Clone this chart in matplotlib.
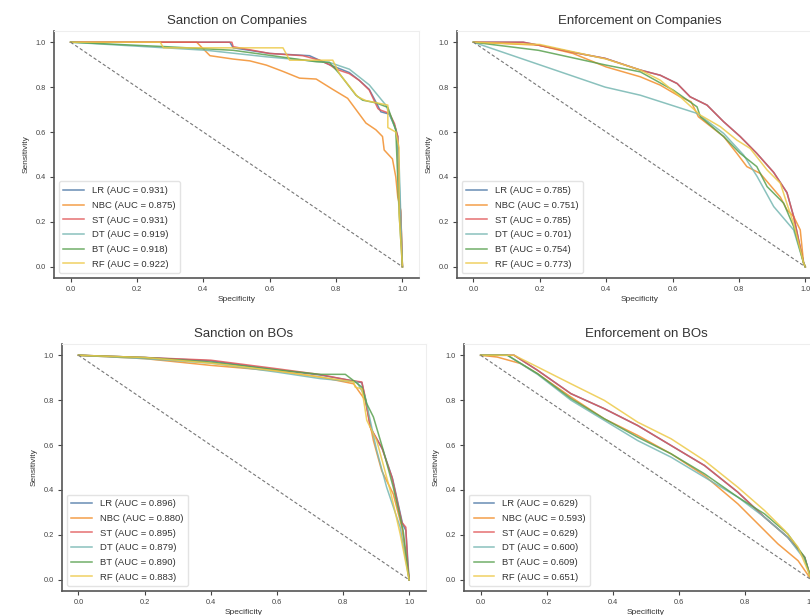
import matplotlib
matplotlib.use("Agg")
import matplotlib.pyplot as plt

plt.rcParams['font.family'] = ['Liberation Sans', 'DejaVu Sans']

models = ["LR", "NBC", "ST", "DT", "BT", "RF"]
colors = ["#4E79A7", "#F28E2B", "#E15759", "#76B7B2", "#59A14F", "#EDC948"]
titles = ["Sanction on Companies", "Enforcement on Companies",
          "Sanction on BOs", "Enforcement on BOs"]
ticks = [0.0, 0.2, 0.4, 0.6, 0.8, 1.0]

# AUC values per panel, order of models
auc_sc = [0.931, 0.875, 0.931, 0.919, 0.918, 0.922]
auc_ec = [0.785, 0.751, 0.785, 0.701, 0.754, 0.773]
auc_sb = [0.896, 0.880, 0.895, 0.879, 0.890, 0.883]
auc_eb = [0.629, 0.593, 0.629, 0.600, 0.609, 0.651]

# ---- Sanction on Companies (specificity, sensitivity)
sc_lr_x = [0, 0.48, 0.49, 0.60, 0.72, 0.78, 0.84, 0.87, 0.90, 0.925, 0.935, 0.96, 0.976, 0.986, 0.992, 1.0]
sc_lr_y = [1.0, 1.0, 0.975, 0.95, 0.94, 0.90, 0.865, 0.83, 0.79, 0.72, 0.69, 0.68, 0.63, 0.58, 0.30, 0.0]
sc_nbc_x = [0, 0.38, 0.40, 0.42, 0.49, 0.54, 0.59, 0.64, 0.69, 0.74, 0.79, 0.835, 0.86, 0.89, 0.92, 0.94, 0.945, 0.97, 0.98, 0.986, 0.995, 1.0]
sc_nbc_y = [1.0, 1.0, 0.97, 0.94, 0.925, 0.917, 0.898, 0.87, 0.84, 0.836, 0.79, 0.75, 0.70, 0.64, 0.61, 0.58, 0.52, 0.48, 0.40, 0.31, 0.25, 0.0]
sc_st_x = [0, 0.486, 0.49, 0.60, 0.70, 0.75, 0.78, 0.80, 0.84, 0.87, 0.90, 0.926, 0.93, 0.961, 0.976, 0.986, 0.99, 0.995, 1.0]
sc_st_y = [1.0, 1.0, 0.98, 0.95, 0.94, 0.92, 0.90, 0.88, 0.86, 0.83, 0.787, 0.705, 0.70, 0.683, 0.638, 0.58, 0.31, 0.24, 0.0]
sc_dt_x = [0, 0.41, 0.59, 0.78, 0.84, 0.90, 0.95, 0.98, 0.99, 1.0]
sc_dt_y = [1.0, 0.964, 0.935, 0.91, 0.88, 0.81, 0.72, 0.61, 0.46, 0.0]
sc_bt_x = [0, 0.29, 0.49, 0.74, 0.78, 0.81, 0.86, 0.88, 0.92, 0.956, 0.98, 0.99, 1.0]
sc_bt_y = [1.0, 0.98, 0.964, 0.913, 0.91, 0.86, 0.764, 0.742, 0.73, 0.71, 0.61, 0.24, 0.0]
sc_rf_x = [0, 0.27, 0.28, 0.64, 0.66, 0.79, 0.81, 0.865, 0.89, 0.956, 0.956, 0.98, 0.99, 0.99, 1.0]
sc_rf_y = [1.0, 1.0, 0.975, 0.975, 0.92, 0.92, 0.86, 0.757, 0.74, 0.72, 0.62, 0.60, 0.53, 0.24, 0.0]

# ---- Enforcement on Companies
ec_lr_x = [0, 0.15, 0.196, 0.30, 0.397, 0.503, 0.563, 0.614, 0.653, 0.704, 0.754, 0.804, 0.854, 0.905, 0.945, 0.965, 0.98, 0.995, 1.0]
ec_lr_y = [1.0, 1.0, 0.987, 0.955, 0.928, 0.876, 0.853, 0.816, 0.757, 0.72, 0.646, 0.58, 0.505, 0.42, 0.33, 0.224, 0.12, 0.017, 0.0]
ec_nbc_x = [0, 0.196, 0.30, 0.40, 0.503, 0.563, 0.623, 0.656, 0.678, 0.754, 0.794, 0.824, 0.864, 0.925, 0.945, 0.965, 0.985, 0.995, 1.0]
ec_nbc_y = [1.0, 0.987, 0.95, 0.89, 0.846, 0.809, 0.757, 0.735, 0.668, 0.58, 0.505, 0.446, 0.416, 0.31, 0.253, 0.224, 0.164, 0.017, 0.0]
ec_st_x = [0, 0.15, 0.196, 0.30, 0.397, 0.503, 0.563, 0.614, 0.653, 0.704, 0.754, 0.804, 0.854, 0.905, 0.945, 0.965, 0.98, 0.995, 1.0]
ec_st_y = [1.0, 1.0, 0.987, 0.955, 0.928, 0.876, 0.853, 0.816, 0.757, 0.72, 0.646, 0.58, 0.505, 0.42, 0.33, 0.224, 0.12, 0.017, 0.0]
ec_dt_x = [0, 0.397, 0.503, 0.674, 0.754, 0.814, 0.855, 0.905, 0.965, 0.995, 1.0]
ec_dt_y = [1.0, 0.80, 0.764, 0.683, 0.594, 0.498, 0.402, 0.268, 0.164, 0.017, 0.0]
ec_bt_x = [0, 0.196, 0.40, 0.503, 0.603, 0.674, 0.684, 0.754, 0.804, 0.854, 0.885, 0.935, 0.965, 0.995, 1.0]
ec_bt_y = [1.0, 0.964, 0.898, 0.868, 0.786, 0.712, 0.668, 0.58, 0.505, 0.446, 0.357, 0.283, 0.179, 0.017, 0.0]
ec_rf_x = [0, 0.20, 0.40, 0.503, 0.563, 0.623, 0.683, 0.744, 0.794, 0.834, 0.885, 0.925, 0.945, 0.965, 0.995, 1.0]
ec_rf_y = [1.0, 0.99, 0.925, 0.876, 0.831, 0.757, 0.676, 0.624, 0.564, 0.527, 0.431, 0.372, 0.28, 0.194, 0.017, 0.0]

# ---- Sanction on BOs
sb_lr_x = [0, 0.2, 0.4, 0.6, 0.731, 0.822, 0.857, 0.867, 0.885, 0.92, 0.95, 0.98, 0.99, 1.0]
sb_lr_y = [1.0, 0.99, 0.975, 0.935, 0.912, 0.888, 0.878, 0.81, 0.67, 0.58, 0.45, 0.25, 0.22, 0.0]
sb_nbc_x = [0, 0.2, 0.4, 0.6, 0.731, 0.832, 0.867, 0.892, 0.917, 0.952, 0.978, 1.0]
sb_nbc_y = [1.0, 0.985, 0.955, 0.93, 0.903, 0.873, 0.80, 0.62, 0.486, 0.382, 0.234, 0.0]
sb_st_x = [0, 0.2, 0.4, 0.6, 0.731, 0.822, 0.857, 0.867, 0.882, 0.917, 0.948, 0.978, 0.99, 0.995, 1.0]
sb_st_y = [1.0, 0.99, 0.978, 0.94, 0.914, 0.888, 0.881, 0.815, 0.68, 0.59, 0.457, 0.256, 0.234, 0.085, 0.0]
sb_dt_x = [0, 0.2, 0.4, 0.6, 0.731, 0.842, 0.867, 0.902, 0.932, 0.973, 1.0]
sb_dt_y = [1.0, 0.985, 0.965, 0.925, 0.896, 0.881, 0.815, 0.576, 0.412, 0.234, 0.0]
sb_bt_x = [0, 0.2, 0.4, 0.6, 0.731, 0.807, 0.832, 0.857, 0.872, 0.892, 0.922, 0.952, 0.982, 1.0]
sb_bt_y = [1.0, 0.99, 0.97, 0.935, 0.915, 0.915, 0.887, 0.858, 0.784, 0.725, 0.576, 0.412, 0.219, 0.0]
sb_rf_x = [0, 0.2, 0.4, 0.6, 0.731, 0.832, 0.837, 0.857, 0.872, 0.902, 0.943, 0.973, 1.0]
sb_rf_y = [1.0, 0.99, 0.965, 0.93, 0.903, 0.881, 0.858, 0.85, 0.71, 0.62, 0.397, 0.204, 0.0]

# ---- Enforcement on BOs
eb_lr_x = [0, 0.101, 0.172, 0.273, 0.374, 0.475, 0.576, 0.677, 0.778, 0.859, 0.929, 0.98, 1.0]
eb_lr_y = [1.0, 1.0, 0.933, 0.829, 0.762, 0.687, 0.598, 0.509, 0.39, 0.278, 0.189, 0.1, 0.0]
eb_nbc_x = [0, 0.05, 0.121, 0.172, 0.273, 0.374, 0.475, 0.576, 0.677, 0.778, 0.859, 0.899, 0.96, 1.0]
eb_nbc_y = [1.0, 0.992, 0.963, 0.918, 0.814, 0.717, 0.643, 0.561, 0.464, 0.338, 0.219, 0.16, 0.085, 0.0]
eb_st_x = [0, 0.101, 0.172, 0.273, 0.374, 0.475, 0.576, 0.677, 0.778, 0.859, 0.929, 0.98, 1.0]
eb_st_y = [1.0, 1.0, 0.933, 0.829, 0.762, 0.687, 0.598, 0.509, 0.39, 0.278, 0.189, 0.1, 0.0]
eb_dt_x = [0, 0.081, 0.172, 0.273, 0.374, 0.475, 0.576, 0.677, 0.778, 0.859, 0.929, 0.98, 1.0]
eb_dt_y = [1.0, 1.0, 0.915, 0.80, 0.71, 0.62, 0.546, 0.457, 0.368, 0.278, 0.189, 0.09, 0.0]
eb_bt_x = [0, 0.081, 0.172, 0.273, 0.374, 0.475, 0.576, 0.677, 0.778, 0.859, 0.929, 0.98, 1.0]
eb_bt_y = [1.0, 1.0, 0.918, 0.807, 0.717, 0.635, 0.561, 0.472, 0.368, 0.293, 0.204, 0.1, 0.0]
eb_rf_x = [0, 0.101, 0.172, 0.273, 0.374, 0.475, 0.576, 0.677, 0.778, 0.859, 0.92, 0.96, 0.99, 1.0]
eb_rf_y = [1.0, 1.0, 0.948, 0.873, 0.799, 0.702, 0.628, 0.531, 0.412, 0.308, 0.219, 0.145, 0.04, 0.0]

panels = [
    (auc_sc, [(sc_lr_x, sc_lr_y), (sc_nbc_x, sc_nbc_y), (sc_st_x, sc_st_y),
              (sc_dt_x, sc_dt_y), (sc_bt_x, sc_bt_y), (sc_rf_x, sc_rf_y)]),
    (auc_ec, [(ec_lr_x, ec_lr_y), (ec_nbc_x, ec_nbc_y), (ec_st_x, ec_st_y),
              (ec_dt_x, ec_dt_y), (ec_bt_x, ec_bt_y), (ec_rf_x, ec_rf_y)]),
    (auc_sb, [(sb_lr_x, sb_lr_y), (sb_nbc_x, sb_nbc_y), (sb_st_x, sb_st_y),
              (sb_dt_x, sb_dt_y), (sb_bt_x, sb_bt_y), (sb_rf_x, sb_rf_y)]),
    (auc_eb, [(eb_lr_x, eb_lr_y), (eb_nbc_x, eb_nbc_y), (eb_st_x, eb_st_y),
              (eb_dt_x, eb_dt_y), (eb_bt_x, eb_bt_y), (eb_rf_x, eb_rf_y)]),
]

# axes boxes in figure fractions (left, bottom, width, height)
boxes = [
    [0.0667, 0.548, 0.4506, 0.4016],
    [0.564, 0.548, 0.4506, 0.4016],
    [0.0765, 0.039, 0.449, 0.4016],
    [0.573, 0.039, 0.449, 0.4016],
]

fig = plt.figure(figsize=(8.1, 6.15), dpi=100)
for i in range(4):
    ax = fig.add_axes(boxes[i])
    aucs, curves = panels[i]
    for j in range(6):
        cx, cy = curves[j]
        ax.plot(cx, cy, color=colors[j], lw=1.1, alpha=0.85,
                label="%s (AUC = %.3f)" % (models[j], aucs[j]))
    ax.plot([0, 1], [1, 0], ls="--", color="#777777", lw=0.8, dashes=(3, 2))
    ax.set_title(titles[i], fontsize=9.5, color="#333333", pad=5)
    ax.set_xlabel("Specificity", fontsize=6, color="#333333", labelpad=2)
    ax.set_ylabel("Sensitivity", fontsize=6, color="#333333", labelpad=4)
    ax.set_xticks(ticks)
    ax.set_yticks(ticks)
    ax.tick_params(labelsize=5.3, colors="#444444", length=3, width=0.8, pad=3)
    for s in ["left", "bottom"]:
        ax.spines[s].set_color("#555555")
        ax.spines[s].set_linewidth(1.2)
    for s in ["top", "right"]:
        ax.spines[s].set_color("#eeeeee")
        ax.spines[s].set_linewidth(0.8)
    leg = ax.legend(loc="lower left", fontsize=6.8, frameon=True,
                    handlelength=2.2, borderpad=0.5, labelspacing=0.6)
    leg.get_frame().set_edgecolor("#dddddd")
    for t in leg.get_texts():
        t.set_color("#333333")

fig.savefig("out.png", dpi=100)
